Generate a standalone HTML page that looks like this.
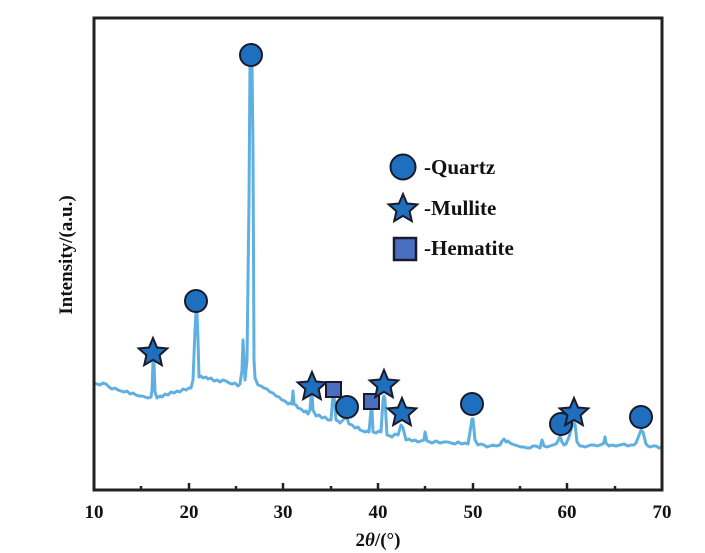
<!DOCTYPE html>
<html><head><meta charset="utf-8"><style>body{margin:0;background:#fff}svg{display:block}</style></head>
<body>
<svg width="705" height="553" xmlns="http://www.w3.org/2000/svg" font-family="Liberation Serif, serif" font-weight="bold">
<polyline fill="none" stroke="#5fb0e0" stroke-width="3" stroke-linejoin="round" points="94,383 97,384 100,385 103,383 106,384 109,387 112,389 115,388 118,390 121,391 124,392 127,391 130,394 133,393 136,395 139,396 142,396 145,397 148,398 151,397 152,390 153,361 154,362 155,392 157,398 160,396 162,397 165,394 168,395 171,392 174,393 177,391 180,392 183,389 186,390 189,388 191,388 193,380 195,330 196,312 197,312 198,340 199,377 201,376 203,378 206,377 208,379 211,378 214,381 217,380 220,382 223,380 226,381 229,383 232,384 235,383 238,386 240,384 242,370 243,340 244,360 245,380 247,360 249,200 250,62 252,62 253,150 254,360 255,378 258,385 261,386 264,388 267,389 270,392 273,393 276,396 279,397 282,400 285,401 288,404 290,403 292,404 293,391 294,404 296,405 298,408 301,409 304,412 306,411 308,414 310,410 311,395 312,393 313,410 316,416 319,415 322,418 325,417 328,420 331,420 333,395 334,394 336,420 338,421 340,423 342,421 345,418 347,418 349,424 352,425 355,428 358,427 360,430 363,431 365,432 367,431 369,432 371,410 372,408 373,432 376,433 379,431 381,432 383,400 384,396 385,400 387,435 390,436 392,437 395,434 398,435 401,425 403,428 406,440 409,439 412,441 415,440 418,442 421,441 424,440 425,432 427,441 430,442 432,443 436,441 440,443 444,442 448,442 451,443 455,444 458,442 462,444 465,443 468,444 470,432 472,419 473,419 475,440 478,445 481,444 484,445 487,447 490,446 493,445 496,446 500,445 502,441 504,439 506,442 508,441 510,443 512,444 515,445 518,446 521,447 524,447 527,448 530,448 533,446 536,446 538,447 540,448 542,440 544,446 547,447 550,446 553,445 556,444 558,441 560,436 562,442 564,445 566,444 569,437 571,430 573,422 575,424 577,442 580,446 582,446 585,447 588,446 591,445 594,445 597,446 600,445 603,444 604,442 605,437 606,443 609,446 612,445 616,446 620,445 624,444 628,446 631,445 634,445 636,443 638,438 641,430 643,432 645,440 646,444 648,446 650,447 653,446 656,446 659,448 662,447"/>
<rect x="94" y="18" width="568" height="472" fill="none" stroke="#222" stroke-width="3"/>
<g stroke="#222" stroke-width="2.5">
<line x1="141" y1="490" x2="141" y2="486"/><line x1="189" y1="490" x2="189" y2="483"/>
<line x1="236" y1="490" x2="236" y2="486"/><line x1="283" y1="490" x2="283" y2="483"/>
<line x1="331" y1="490" x2="331" y2="486"/><line x1="378" y1="490" x2="378" y2="483"/>
<line x1="425" y1="490" x2="425" y2="486"/><line x1="473" y1="490" x2="473" y2="483"/>
<line x1="520" y1="490" x2="520" y2="486"/><line x1="567" y1="490" x2="567" y2="483"/>
<line x1="615" y1="490" x2="615" y2="486"/>
</g>
<g font-size="19" text-anchor="middle" fill="#111">
<text x="94" y="518">10</text><text x="189" y="518">20</text><text x="283" y="518">30</text><text x="378" y="518">40</text><text x="473" y="518">50</text><text x="567" y="518">60</text><text x="662" y="518">70</text>
<text x="378" y="546">2<tspan font-style="italic">θ</tspan>/(°)</text>
<text transform="translate(72,255) rotate(-90)">Intensity/(a.u.)</text>
</g>
<defs>
<polygon id="st" points="0,-15 4,-5.5 14.3,-4.6 6.6,2.2 8.8,12.1 0,6.9 -8.8,12.1 -6.6,2.2 -14.3,-4.6 -4,-5.5"/>
</defs>
<g stroke="#1a1a2a" stroke-width="2" fill="#1f6fbf">
<use href="#st" x="153" y="353"/>
<circle cx="196" cy="301" r="11"/>
<circle cx="251" cy="55" r="11"/>
<use href="#st" x="312" y="387"/>
<rect x="326" y="382" width="15" height="15" fill="#4a6fc0"/>
<circle cx="347" cy="407" r="11"/>
<rect x="364" y="394" width="15" height="15" fill="#4a6fc0"/>
<use href="#st" x="384" y="385"/>
<use href="#st" x="402" y="413"/>
<circle cx="472" cy="404" r="11"/>
<circle cx="561" cy="424" r="11"/>
<use href="#st" x="574" y="413"/>
<circle cx="641" cy="417" r="11"/>
<circle cx="403" cy="167" r="12.5"/>
<use href="#st" x="403" y="209"/>
<rect x="394" y="238" width="22" height="22" fill="#4a6fc0" stroke-width="2.5"/>
</g>
<g font-size="21" fill="#111">
<text x="424" y="174">-Quartz</text>
<text x="424" y="215">-Mullite</text>
<text x="424" y="255">-Hematite</text>
</g>
</svg>
</body></html>
